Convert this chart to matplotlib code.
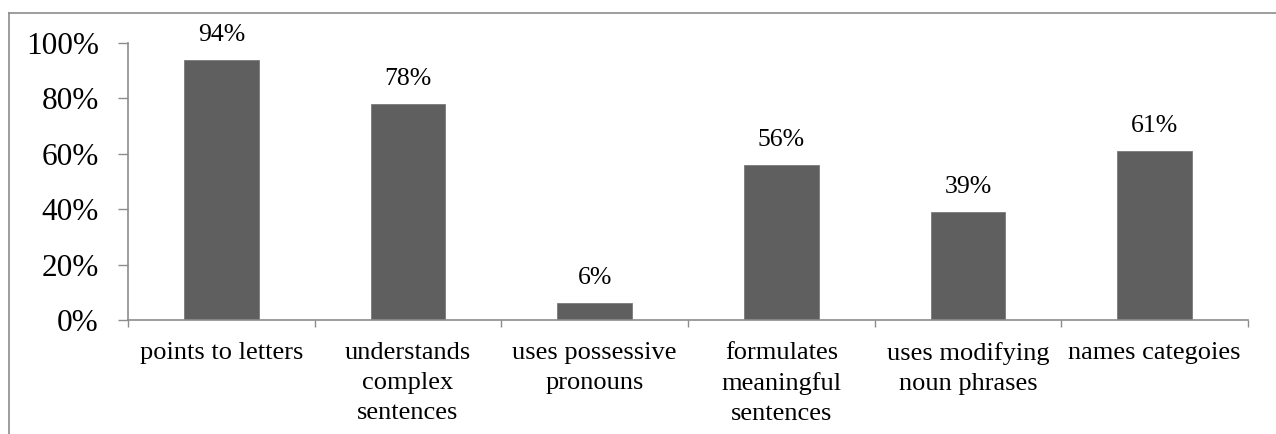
import matplotlib
matplotlib.use("Agg")
import matplotlib.pyplot as plt
from matplotlib.lines import Line2D
from matplotlib.ticker import PercentFormatter
import numpy as np

categories = ["points to letters", "understands\ncomplex\nsentences", "uses possessive\npronouns",
              "formulates\nmeaningful\nsentences", "uses modifying\nnoun phrases", "names categoies"]
values = [94, 78, 6, 56, 39, 61]
yticks = [0, 20, 40, 60, 80, 100]

plt.rcParams['font.family'] = ['Liberation Serif', 'DejaVu Serif']

fig = plt.figure(figsize=(12.76, 4.34), dpi=100)
W, H = 1276, 434
ax = fig.add_axes([128 / W, 114 / H, (1248 - 128) / W, (320 - 43) / H])

x = np.arange(len(categories))
bars = ax.bar(x, values, width=0.4, color='#5f5f5f', edgecolor='#7a7a7a', linewidth=0.6, zorder=2)

for xi, v in zip(x, values):
    ax.annotate(f"{v}%", (xi, v), xytext=(0, 19), textcoords='offset pixels',
                ha='center', va='baseline', fontsize=18.5, color='black')

ax.set_xlim(-0.5, len(categories) - 0.5)
ax.set_ylim(0, 100)
ax.set_yticks(yticks)
ax.yaxis.set_major_formatter(PercentFormatter(decimals=0))
ax.set_xticks(x)
ax.set_xticklabels(categories, fontsize=19, linespacing=1.45)
ax.set_xticks(np.arange(-0.5, len(categories)), minor=True)
ax.tick_params(axis='x', which='major', length=0, pad=16)
ax.tick_params(axis='x', which='minor', length=5, width=1, color='#8c8c8c', direction='out')
ax.tick_params(axis='y', which='major', length=7, width=1, color='#8c8c8c', direction='out',
               labelsize=22.5, pad=14)

for side in ['top', 'right']:
    ax.spines[side].set_visible(False)
for side in ['left', 'bottom']:
    ax.spines[side].set_color('#8c8c8c')
    ax.spines[side].set_linewidth(1.2)

# outer frame (top and left visible)
fig.add_artist(Line2D([9 / W, 1.0], [1 - 12.5 / H, 1 - 12.5 / H], transform=fig.transFigure,
                      color='#8c8c8c', linewidth=1.2))
fig.add_artist(Line2D([9 / W, 9 / W], [0, 1 - 12.5 / H], transform=fig.transFigure,
                      color='#8c8c8c', linewidth=1.2))

fig.savefig("out.png", dpi=100)
